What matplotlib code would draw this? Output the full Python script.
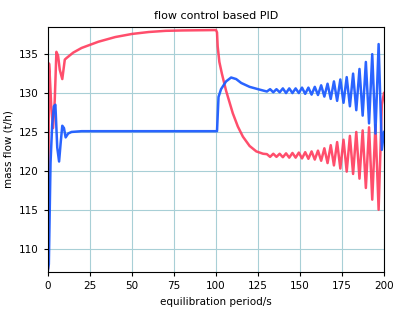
import matplotlib
matplotlib.use("Agg")
import matplotlib.pyplot as plt

# readings: time (s) and mass flow (t/h)

red_t = [0, 0.6, 1, 2, 3, 4, 5, 6, 7, 8.5, 10, 11, 15, 20, 25, 30, 40, 50,
         60, 70, 80, 100, 100.6, 101, 102, 103.5, 106, 110, 113, 116, 120,
         124, 128,
         130.3, 132.2, 134.1, 136.0, 137.9, 139.8, 141.7, 143.6, 145.5,
         147.4, 149.3, 151.2, 153.1, 155.0, 156.9, 158.8, 160.7, 162.6,
         164.5, 166.4, 168.3, 170.2, 172.1, 174.0, 175.9, 177.8, 179.7,
         181.6, 183.5, 185.4, 187.3, 189.2, 191.1, 193.0, 194.9, 196.8,
         198.7, 200]
red_v = [107.5, 133.8, 132.5, 128, 125.5, 129, 135.3, 134.8, 133, 131.8,
         134.3, 134.5, 135.2, 135.8, 136.2, 136.6, 137.2, 137.6,
         137.85, 138.0, 138.05, 138.1, 137.8, 136, 134, 132.5, 130.3, 127.4,
         125.7, 124.4, 123.2, 122.5, 122.2,
         122.15, 121.8, 122.2, 121.8, 122.2, 121.75, 122.25, 121.7, 122.3,
         121.7, 122.35, 121.6, 122.4, 121.55, 122.5, 121.45, 122.6, 121.3,
         122.9, 121.0, 123.3, 120.7, 123.7, 120.3, 124.0, 119.9, 124.5,
         119.6, 125.0, 119.0, 125.2, 117.8, 125.6, 116.3, 125.9, 115.0,
         128.5, 130.0]

blue_t = [0, 0.5, 1.5, 2.5, 3.5, 4.4, 5.5, 6.6, 7.5, 8.5, 9.5, 10.5, 12,
          14, 20, 100.6, 101.5, 103, 106, 109, 112, 115, 120, 125, 128.5,
          130.3, 132.2, 134.1, 136.0, 137.9, 139.8, 141.7, 143.6, 145.5,
          147.4, 149.3, 151.2, 153.1, 155.0, 156.9, 158.8, 160.7, 162.6,
          164.5, 166.4, 168.3, 170.2, 172.1, 174.0, 175.9, 177.8, 179.7,
          181.6, 183.5, 185.4, 187.3, 189.2, 191.1, 193.0, 194.9, 196.8,
          198.7, 200]
blue_v = [107.3, 108, 121, 126, 128.3, 128.5, 123, 121.2, 123.5, 125.8,
          125.5, 124.3, 124.8, 125.0, 125.1, 125.1, 129.5, 130.5, 131.5,
          132, 131.8, 131.3, 130.8, 130.5, 130.3,
          130.2, 130.5, 130.1, 130.5, 130.1, 130.6, 130.0, 130.6, 130.0,
          130.6, 130.0, 130.7, 129.9, 130.7, 129.8, 130.8, 129.75, 131.0,
          129.55, 131.2, 129.25, 131.5, 129.0, 131.75, 128.75, 132.05, 128.3,
          132.5, 127.8, 133.1, 127.1, 134.0, 126.1, 135.0, 124.8, 136.3,
          122.7, 125.0]

x_ticks = [0, 25, 50, 75, 100, 125, 150, 175, 200]
y_ticks = [110, 115, 120, 125, 130, 135]

fig = plt.figure(figsize=(4.0, 3.17), dpi=100)
ax = fig.add_axes([0.12, 0.142, 0.84, 0.773])

ax.plot(red_t, red_v, color='#ff3b5c', lw=1.8, alpha=0.9)
ax.plot(blue_t, blue_v, color='#1e5cff', lw=1.8, alpha=0.95)

ax.set_xlim(0, 200)
ax.set_ylim(107, 138.5)
ax.set_xticks(x_ticks)
ax.set_yticks(y_ticks)
ax.grid(True, color='#a8cfd6', lw=0.8)
ax.tick_params(labelsize=7.5, length=3)

ax.set_title('flow control based PID', fontsize=8)
ax.set_xlabel('equilibration period/s', fontsize=7.5)
ax.set_ylabel('mass flow (t/h)', fontsize=7.5)

fig.savefig('out.png', dpi=100)
